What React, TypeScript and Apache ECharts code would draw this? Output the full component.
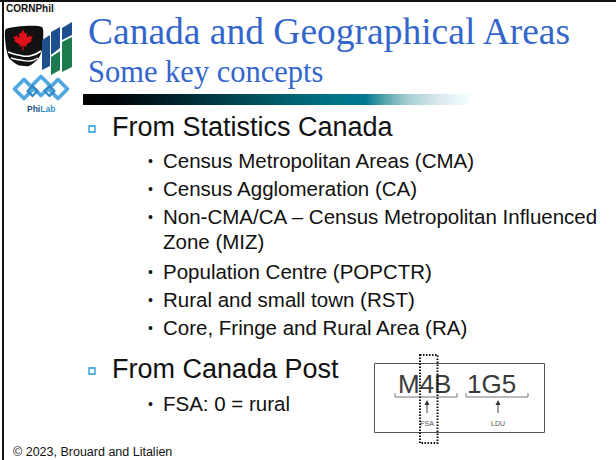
import React, { useEffect, useRef } from "react";
import * as echarts from "echarts";

const titleText = "Canada and Geographical Areas";
const subtitleText = "Some key concepts";
const sectionLabels = ["From Statistics Canada", "From Canada Post"];
const statsCanItems = [
  "Census Metropolitan Areas (CMA)",
  "Census Agglomeration (CA)",
  "Non-CMA/CA \u2013 Census Metropolitan Influenced",
  "Population Centre (POPCTR)",
  "Rural and small town (RST)",
  "Core, Fringe and Rural Area (RA)",
];
const statsCanContinuation = "Zone (MIZ)";
const canadaPostItems = ["FSA: 0 = rural"];
const postalParts = ["M4B", "1G5"];
const postalLabels = ["FSA", "LDU"];
const footerText = "\u00a9 2023, Brouard and Litalien";
const orgName = "CORNPhil";

const SANS = "'Liberation Sans', Arial, sans-serif";
const SERIF = "'Liberation Serif', 'Times New Roman', serif";
const BLUE = "#3366CC";

function mapleLeaf(cx: number, cy: number, s: number): number[][] {
  const p = [
    [0, -10], [2, -6], [4, -7], [3.5, -2], [7, -5], [6.5, -3], [9.5, -3.5], [7.5, 0], [8.5, 1],
    [3, 4.5], [3.5, 6.5], [0.6, 5.5], [0.6, 10], [-0.6, 10], [-0.6, 5.5], [-3.5, 6.5], [-3, 4.5],
    [-8.5, 1], [-7.5, 0], [-9.5, -3.5], [-6.5, -3], [-7, -5], [-3.5, -2], [-4, -7], [-2, -6],
  ];
  return p.map(([x, y]) => [cx + x * s, cy + y * s]);
}

function diamond(cx: number, cy: number, r: number): number[][] {
  return [[cx, cy - r], [cx + r, cy], [cx, cy + r], [cx - r, cy]];
}

export default function App() {
  const ref = useRef<HTMLDivElement>(null);
  useEffect(() => {
    if (!ref.current) return;
    const chart = echarts.init(ref.current, null, { renderer: "svg" });
    const g: any[] = [];

    // frame lines
    g.push({ type: "rect", shape: { x: 0, y: 0, width: 616, height: 2 }, style: { fill: "#111" } });
    g.push({ type: "rect", shape: { x: 2, y: 0, width: 2, height: 460 }, style: { fill: "#111" } });

    // CORNPhil label
    g.push({ type: "text", style: { text: orgName, x: 6, y: 8.5, font: `bold 10px ${SANS}`, fill: "#111", verticalAlign: "middle" } });

    // Shield logo
    g.push({ type: "polygon", shape: { points: [[6, 29], [42, 27], [42, 50], [38, 59], [29, 66], [18, 65], [9, 58], [6, 47]], smooth: 0.2 }, style: { fill: "#111" } });
    g.push({ type: "polygon", shape: { points: mapleLeaf(23, 40, 1.05) }, style: { fill: "#e0101a" } });
    g.push({ type: "polyline", shape: { points: [[8, 52], [18, 55], [30, 56], [41, 51]], smooth: 0.5 }, style: { stroke: "#fff", lineWidth: 1.6, fill: "none" } });
    g.push({ type: "polyline", shape: { points: [[11, 58], [20, 60], [30, 61], [38, 58]], smooth: 0.5 }, style: { stroke: "#fff", lineWidth: 1.4, fill: "none" } });

    // NU logo
    g.push({ type: "polygon", shape: { points: [[42, 40], [50, 35], [50, 66], [42, 70]] }, style: { fill: "#1d4f8f" } });
    g.push({ type: "polygon", shape: { points: [[51, 32], [60, 27], [60, 48], [51, 55]] }, style: { fill: "#1d4f8f" } });
    g.push({ type: "polygon", shape: { points: [[62, 28], [72, 22], [72, 35], [62, 40]] }, style: { fill: "#1d4f8f" } });
    g.push({ type: "polygon", shape: { points: [[51, 57], [60, 51], [60, 70], [51, 75]] }, style: { fill: "#1b7a4e" } });
    g.push({ type: "polygon", shape: { points: [[62, 42], [72, 37], [72, 67], [62, 72]] }, style: { fill: "#1b7a4e" } });

    // PhiLab chain logo
    [24, 41, 58].forEach((cx, i) => {
      g.push({ type: "polygon", shape: { points: diamond(cx, i === 1 ? 86 : 89, 9.5) }, style: { fill: "none", stroke: "#4fa9de", lineWidth: 3.8, lineJoin: "round" } });
    });
    [32.5, 49.5].forEach((cx) => {
      g.push({ type: "polygon", shape: { points: diamond(cx, 91, 5) }, style: { fill: "none", stroke: "#2f86c4", lineWidth: 2.2, lineJoin: "round" } });
    });
    g.push({
      type: "text",
      style: {
        text: "{a|Phi}{b|Lab}", x: 27, y: 109, verticalAlign: "middle",
        rich: {
          a: { font: `bold 8.5px ${SANS}`, fill: "#1f4f82" },
          b: { font: `bold 8.5px ${SANS}`, fill: "#2f8fc2" },
        },
      },
    });

    // Title & subtitle
    g.push({ type: "text", style: { text: titleText, x: 88, y: 31, font: `37.5px ${SERIF}`, fill: BLUE, verticalAlign: "middle" } });
    g.push({ type: "text", style: { text: subtitleText, x: 88, y: 72, font: `30.5px ${SERIF}`, fill: BLUE, verticalAlign: "middle" } });

    // gradient bar
    g.push({
      type: "rect",
      shape: { x: 83, y: 94, width: 387, height: 11 },
      style: {
        fill: {
          type: "linear", x: 0, y: 0, x2: 1, y2: 0,
          colorStops: [
            { offset: 0, color: "#000000" },
            { offset: 0.08, color: "#000408" },
            { offset: 0.2, color: "#001c24" },
            { offset: 0.32, color: "#003440" },
            { offset: 0.45, color: "#00505c" },
            { offset: 0.55, color: "#006474" },
            { offset: 0.65, color: "#007488" },
            { offset: 0.73, color: "#007890" },
            { offset: 0.78, color: "#5aa4ae" },
            { offset: 0.84, color: "#a4d0d2" },
            { offset: 0.92, color: "#dce8ee" },
            { offset: 1, color: "#f4ffff" },
          ],
        },
      },
    });

    // section bullets
    const secY = [127, 369];
    sectionLabels.forEach((t, i) => {
      g.push({ type: "rect", shape: { x: 89, y: secY[i] - 1, width: 6, height: 6 }, style: { fill: "none", stroke: "#1e9ad6", lineWidth: 1.3 } });
      g.push({ type: "text", style: { text: t, x: 112, y: secY[i], font: `27px ${SANS}`, fill: "#111", verticalAlign: "middle" } });
    });

    // sub-bullets
    const subY = [160, 188, 216, 271, 299, 327];
    const addSub = (t: string, y: number) => {
      g.push({ type: "text", style: { text: "\u2022", x: 148, y: y + 1, font: `14px ${SANS}`, fill: "#111", verticalAlign: "middle" } });
      g.push({ type: "text", style: { text: t, x: 163, y, font: `20.5px ${SANS}`, fill: "#111", verticalAlign: "middle" } });
    };
    statsCanItems.forEach((t, i) => addSub(t, subY[i]));
    g.push({ type: "text", style: { text: statsCanContinuation, x: 163, y: 241, font: `20.5px ${SANS}`, fill: "#111", verticalAlign: "middle" } });
    canadaPostItems.forEach((t) => addSub(t, 403));

    // postal code diagram
    g.push({ type: "rect", shape: { x: 374.5, y: 363.5, width: 170, height: 69 }, style: { fill: "#fff", stroke: "#555", lineWidth: 1 } });
    const partX = [398, 467];
    postalParts.forEach((t, i) => {
      g.push({ type: "text", style: { text: t, x: partX[i], y: 383.5, font: `26px ${SANS}`, fill: "#3a3a3a", verticalAlign: "middle" } });
    });
    const brackets = [[395, 457], [466, 528]];
    brackets.forEach(([a, b]) => {
      g.push({ type: "polyline", shape: { points: [[a, 393], [a, 397], [b, 397], [b, 393]] }, style: { stroke: "#777", lineWidth: 1, fill: "none" } });
    });
    const arrowX = [427, 498];
    arrowX.forEach((x, i) => {
      g.push({ type: "line", shape: { x1: x, y1: 404, x2: x, y2: 413 }, style: { stroke: "#444", lineWidth: 1 } });
      g.push({ type: "polygon", shape: { points: [[x, 400], [x - 2.5, 405], [x + 2.5, 405]] }, style: { fill: "#333" } });
      g.push({ type: "text", style: { text: postalLabels[i], x, y: 423, font: `7px ${SANS}`, fill: "#555", align: "center", verticalAlign: "middle" } });
    });
    g.push({ type: "rect", shape: { x: 420, y: 355, width: 17.5, height: 88 }, style: { fill: "none", stroke: "#111", lineWidth: 2, lineDash: [1.5, 1.5] } });

    // footer
    g.push({ type: "text", style: { text: footerText, x: 13, y: 452, font: `12.5px ${SANS}`, fill: "#111", verticalAlign: "middle" } });

    chart.setOption({ animation: false, backgroundColor: "#ffffff", graphic: { elements: g } });
    return () => chart.dispose();
  }, []);
  return <div ref={ref} style={{ position: "absolute", left: 0, top: 0, width: 616, height: 460 }} />;
}
